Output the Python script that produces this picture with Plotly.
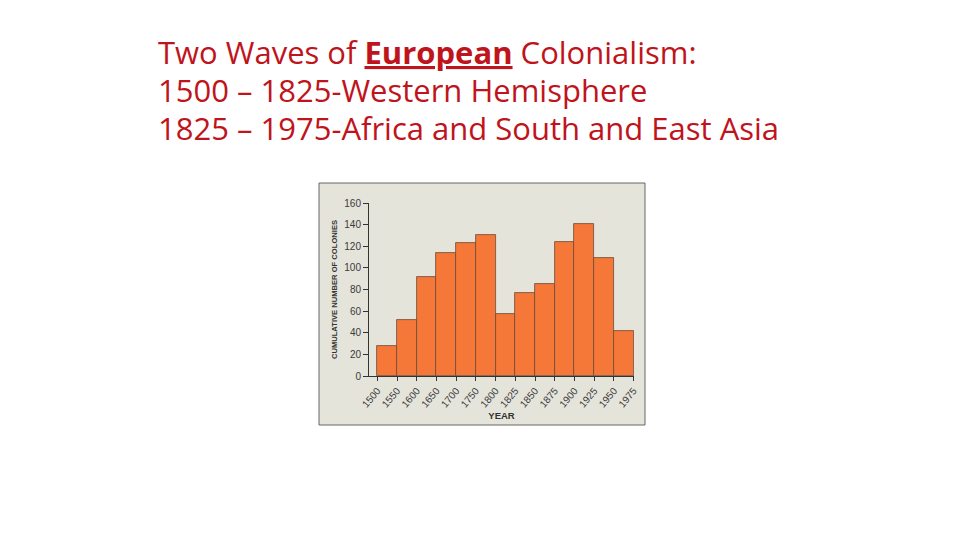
import plotly.graph_objects as go

years = ["1500", "1550", "1600", "1650", "1700", "1750", "1800", "1825",
         "1850", "1875", "1900", "1925", "1950", "1975"]
colonies = [28, 52, 92, 114, 123, 130, 57, 77, 85, 124, 141, 109, 42]
y_ticks = [0, 20, 40, 60, 80, 100, 120, 140, 160]
title_lines = [
    "Two Waves of <b><u>European</u></b> Colonialism:",
    "1500 – 1825-Western Hemisphere",
    "1825 – 1975-Africa and South and East Asia",
]

W, H = 960, 540
def px(x):
    return x / W
def py(y):
    return 1 - y / H

fig = go.Figure()
fig.add_trace(go.Bar(
    x=[i + 0.5 for i in range(len(colonies))],
    y=colonies,
    width=1,
    marker=dict(color="#F57838", line=dict(color="#6b4a38", width=0.8)),
    hoverinfo="y",
))

tick_font = dict(family="Liberation Sans Narrow, Liberation Sans, Arial", size=10, color="#3a3a3a")

fig.update_layout(
    template="none",
    width=W, height=H,
    margin=dict(l=0, r=0, t=0, b=0, pad=0),
    paper_bgcolor="white",
    plot_bgcolor="rgba(0,0,0,0)",
    showlegend=False,
    bargap=0,
    xaxis=dict(
        automargin=False,
        domain=[px(369), px(634)],
        range=[-0.42, 13.02],
        tickvals=list(range(len(years))),
        ticktext=years,
        tickangle=-50,
        tickfont=tick_font,
        ticks="outside", ticklen=4, tickcolor="#333", tickwidth=1,
        showline=True, linecolor="#333", linewidth=1,
        showgrid=False, zeroline=False,
        title=dict(text="<b>YEAR</b>", font=dict(family="Liberation Sans Narrow, Liberation Sans", size=9.5, color="#333"), standoff=3),
    ),
    yaxis=dict(
        automargin=False,
        domain=[py(376), py(203)],
        range=[0, 160],
        tickvals=y_ticks,
        tickfont=tick_font,
        ticks="outside", ticklen=5, tickcolor="#333", tickwidth=1,
        showline=True, linecolor="#333", linewidth=1,
        showgrid=False, zeroline=False,
        title=dict(text="<b>CUMULATIVE NUMBER OF COLONIES</b>", font=dict(family="Liberation Sans Narrow, Liberation Sans", size=7.6, color="#333"), standoff=5),
    ),
    shapes=[dict(
        type="rect", xref="paper", yref="paper",
        x0=px(319), x1=px(645), y0=py(425), y1=py(183),
        fillcolor="#E5E4DA", line=dict(color="#666", width=1), layer="below",
    )],
)

for i, (line, yc) in enumerate(zip(title_lines, [52, 90, 128])):
    fig.add_annotation(
        text=line, xref="paper", yref="paper",
        x=px(156), y=py(yc), xanchor="left", yanchor="middle",
        showarrow=False,
        font=dict(family="Open Sans", size=31, color="#C0141C"),
    )

fig.write_html(
    "out.html",
    config={"displayModeBar": False},
    post_script=(
        "document.documentElement.style.margin='0';"
        "document.documentElement.style.overflow='hidden';"
        "document.body.style.margin='0';"
        "document.body.style.overflow='hidden';"
    ),
)
